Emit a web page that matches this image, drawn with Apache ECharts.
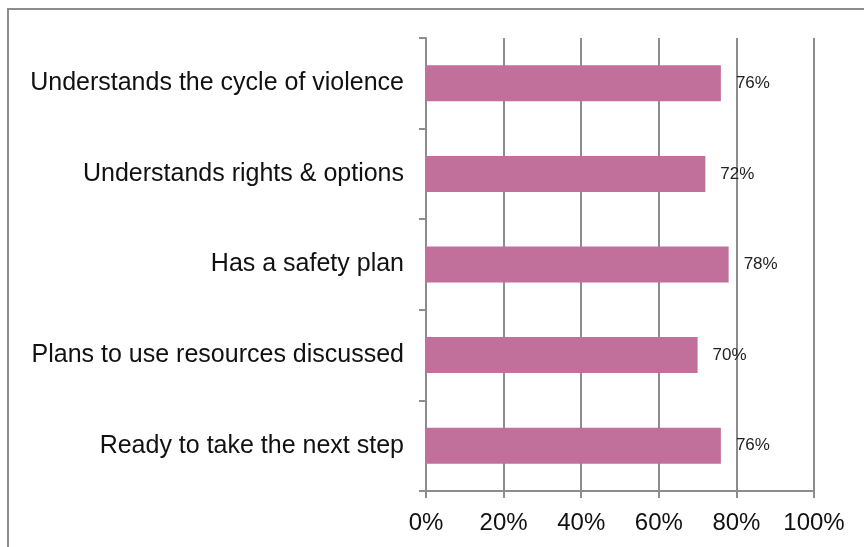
<!DOCTYPE html>
<html>
<head>
<meta charset="utf-8">
<script src="https://cdn.jsdelivr.net/npm/echarts@6/dist/echarts.min.js"></script>
<style>
  html, body { margin: 0; padding: 0; background: #fff; }
  #chart { width: 864px; height: 547px; }
</style>
</head>
<body>
<div id="chart"></div>
<script>
// Outcome categories, top to bottom
const categories = [
  'Understands the cycle of violence',
  'Understands rights & options',
  'Has a safety plan',
  'Plans to use resources discussed',
  'Ready to take the next step'
];
// Share of respondents (%)
const values = [76, 72, 78, 70, 76];
// Value axis ticks (%)
const xTicks = [0, 20, 40, 60, 80, 100];

const gray = '#8c8c8c';
const chart = echarts.init(document.getElementById('chart'));
chart.setOption({
  animation: false,
  graphic: [{
    type: 'rect',
    shape: { x: 8, y: 9, width: 1000, height: 700 },
    style: { fill: 'none', stroke: gray, lineWidth: 2 },
    silent: true
  }],
  grid: { left: 426, right: 50, top: 38, bottom: 56 },
  xAxis: {
    type: 'value',
    min: xTicks[0],
    max: xTicks[xTicks.length - 1],
    interval: xTicks[1] - xTicks[0],
    axisLine: { show: true, lineStyle: { color: gray, width: 2 } },
    axisTick: { show: true, length: 7, lineStyle: { color: gray, width: 2 } },
    splitLine: { show: true, lineStyle: { color: gray, width: 2 } },
    axisLabel: {
      margin: 20,
      color: '#111',
      fontFamily: 'Liberation Sans, Arial, sans-serif',
      fontSize: 24,
      formatter: v => v + '%'
    }
  },
  yAxis: {
    type: 'category',
    data: categories,
    inverse: true,
    axisLine: { show: true, lineStyle: { color: gray, width: 2 } },
    axisTick: { show: true, length: 7, lineStyle: { color: gray, width: 2 } },
    splitLine: { show: false },
    axisLabel: {
      margin: 22,
      padding: [4, 0, 0, 0],
      color: '#111',
      fontFamily: 'Liberation Sans, Arial, sans-serif',
      fontSize: 25
    }
  },
  series: [{
    type: 'bar',
    data: values,
    barWidth: 36,
    itemStyle: { color: '#c0709a' },
    label: {
      show: true,
      position: 'right',
      distance: 15,
      padding: [3, 0, 0, 0],
      color: '#222',
      fontFamily: 'Liberation Sans, Arial, sans-serif',
      fontSize: 17,
      formatter: p => p.value + '%'
    }
  }]
});
</script>
</body>
</html>
